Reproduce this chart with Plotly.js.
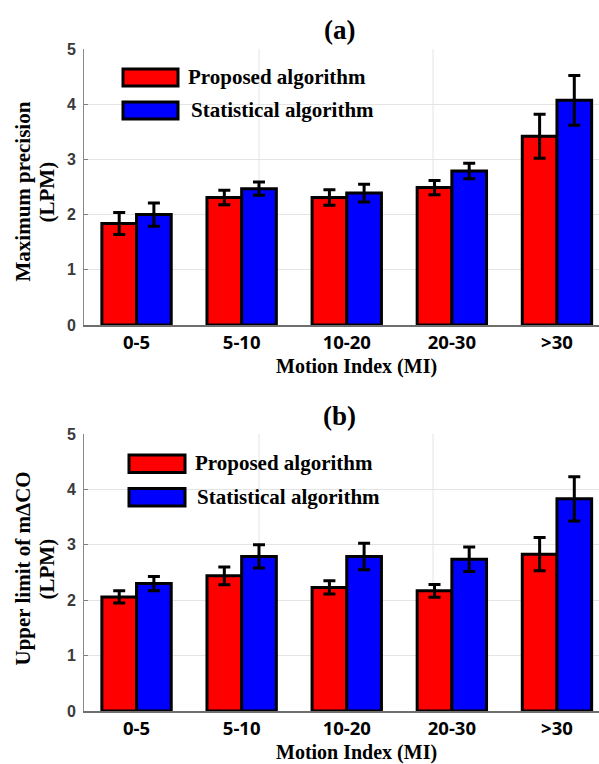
<!DOCTYPE html>
<html>
<head>
<meta charset="utf-8">
<script src="https://cdn.plot.ly/plotly-3.0.1.min.js"></script>
<style>html,body{margin:0;padding:0;background:#fff;}#chart{width:599px;height:764px;}</style>
</head>
<body>
<div id="chart"></div>
<script>
// ---- data ----
const categories = ["0-5", "5-10", "10-20", "20-30", ">30"];
const catPos = [1, 2, 3, 4, 5];
const seriesNames = ["Proposed algorithm", "Statistical algorithm"];

// (a) Maximum precision (LPM)
const precisionProposed = [1.84, 2.31, 2.31, 2.49, 3.42];
const precisionProposedErr = [0.20, 0.13, 0.14, 0.13, 0.40];
const precisionStatistical = [2.00, 2.47, 2.39, 2.79, 4.07];
const precisionStatisticalErr = [0.21, 0.12, 0.16, 0.14, 0.45];

// (b) Upper limit of mΔCO (LPM)
const upperProposed = [2.06, 2.44, 2.23, 2.17, 2.83];
const upperProposedErr = [0.11, 0.16, 0.12, 0.115, 0.30];
const upperStatistical = [2.30, 2.79, 2.79, 2.74, 3.83];
const upperStatisticalErr = [0.13, 0.21, 0.24, 0.22, 0.40];

const yTicks = [0, 1, 2, 3, 4, 5];

// ---- helpers ----
const W = 599, H = 764;
const px = v => v / W;
const py = v => 1 - v / H;

function barTrace(x, y, err, color, xa, ya, name) {
  return {
    type: 'bar', x: x, y: y, name: name, xaxis: xa, yaxis: ya,
    marker: {color: color, line: {color: '#000', width: 3}},
    error_y: {type: 'data', array: err, visible: true, color: '#000', thickness: 3, width: 6},
    showlegend: false, hoverinfo: 'skip'
  };
}

const data = [
  barTrace(catPos, precisionProposed, precisionProposedErr, '#ff0000', 'x', 'y', seriesNames[0]),
  barTrace(catPos, precisionStatistical, precisionStatisticalErr, '#0000ff', 'x', 'y', seriesNames[1]),
  barTrace(catPos, upperProposed, upperProposedErr, '#ff0000', 'x2', 'y2', seriesNames[0]),
  barTrace(catPos, upperStatistical, upperStatisticalErr, '#0000ff', 'x2', 'y2', seriesNames[1])
];

const tickFont = {family: 'Open Sans, Liberation Sans, sans-serif', size: 18.5, color: '#000', weight: 700};
const yTickFont = {family: 'Liberation Sans, Arial, sans-serif', size: 16, color: '#3a3a3a', weight: 700};
const serif = 'Liberation Serif, Times New Roman, serif';

function xAxis(anchor) {
  return {
    domain: [px(84), 1], range: [0.5, 5.4], anchor: anchor,
    tickmode: 'array', tickvals: catPos, ticktext: categories,
    tickfont: tickFont, ticks: '', ticklabelstandoff: 0, showgrid: false, zeroline: false,
    showline: true, linecolor: '#6e6e6e', linewidth: 1.5, fixedrange: true
  };
}
function yAxis(domain, anchor) {
  return {
    domain: domain, range: [0, 5], anchor: anchor,
    tickmode: 'array', tickvals: yTicks, tickfont: yTickFont,
    ticks: 'inside', ticklen: 4, tickcolor: '#808080', ticklabelstandoff: 4,
    showgrid: true, gridcolor: '#e4e4e4', gridwidth: 1, zeroline: false,
    showline: true, linecolor: '#8a8a8a', linewidth: 1, fixedrange: true
  };
}

const shapes = [];
const annotations = [];

function addPanel(cfg) {
  // extra vertical grid lines
  [259, 433].forEach(g => shapes.push({
    type: 'line', xref: 'paper', yref: cfg.ya + ' domain', x0: px(g), x1: px(g), y0: 0, y1: 1,
    line: {color: '#e4e4e4', width: 1}, layer: 'below'
  }));
  // legend patches
  const cols = ['#ff0000', '#0000ff'];
  cfg.legBoxes.forEach((b, i) => {
    shapes.push({
      type: 'rect', xref: 'paper', yref: 'paper',
      x0: px(b[0]), x1: px(b[1]), y0: py(b[2]), y1: py(b[3]),
      fillcolor: cols[i], line: {color: '#000', width: 3}
    });
    annotations.push({
      xref: 'paper', yref: 'paper', x: px(cfg.legText[i][0]), y: py(cfg.legText[i][1]),
      xanchor: 'left', yanchor: 'middle', showarrow: false, text: seriesNames[i],
      font: {family: serif, size: 21, color: '#000', weight: 700}
    });
  });
  // panel title
  annotations.push({
    xref: 'paper', yref: 'paper', x: px(340), y: py(cfg.titleY), xanchor: 'center', yanchor: 'middle',
    showarrow: false, text: cfg.title, font: {family: serif, size: 27, color: '#000', weight: 700}
  });
  // x-axis title
  annotations.push({
    xref: 'paper', yref: 'paper', x: px(357), y: py(cfg.xTitleY), xanchor: 'center', yanchor: 'middle',
    showarrow: false, text: 'Motion Index (MI)', font: {family: serif, size: 20, color: '#000', weight: 700}
  });
  // y-axis title (two lines)
  cfg.yTitle.forEach((t, i) => annotations.push({
    xref: 'paper', yref: 'paper', x: px([22.5, 46.5][i]), y: py(cfg.yTitleY), xanchor: 'center', yanchor: 'middle',
    showarrow: false, textangle: -90, text: t, font: {family: serif, size: 21, color: '#000', weight: 700}
  }));
}

addPanel({
  ya: 'y', title: '(a)', titleY: 30.5, xTitleY: 366, yTitleY: 192,
  yTitle: ['Maximum precision', '(LPM)'],
  legBoxes: [[123, 178, 69, 86], [123, 178, 102, 119]],
  legText: [[186, 77], [189, 110]]
});
addPanel({
  ya: 'y2', title: '(b)', titleY: 415.5, xTitleY: 752, yTitleY: 569,
  yTitle: ['Upper limit of mΔCO', '(LPM)'],
  legBoxes: [[129, 185, 455, 472.5], [129, 185, 488.5, 506]],
  legText: [[193, 463], [195, 497]]
});

const layout = {
  width: W, height: H,
  margin: {l: 0, r: 0, t: 0, b: 0},
  paper_bgcolor: '#fff', plot_bgcolor: '#fff',
  barmode: 'group', bargap: 0.34, bargroupgap: 0,
  showlegend: false,
  xaxis: xAxis('y'),
  yaxis: yAxis([py(325), py(49)], 'x'),
  xaxis2: xAxis('y2'),
  yaxis2: yAxis([py(711), py(434)], 'x2'),
  shapes: shapes,
  annotations: annotations
};

Plotly.newPlot('chart', data, layout, {displayModeBar: false, staticPlot: true});
</script>
</body>
</html>
